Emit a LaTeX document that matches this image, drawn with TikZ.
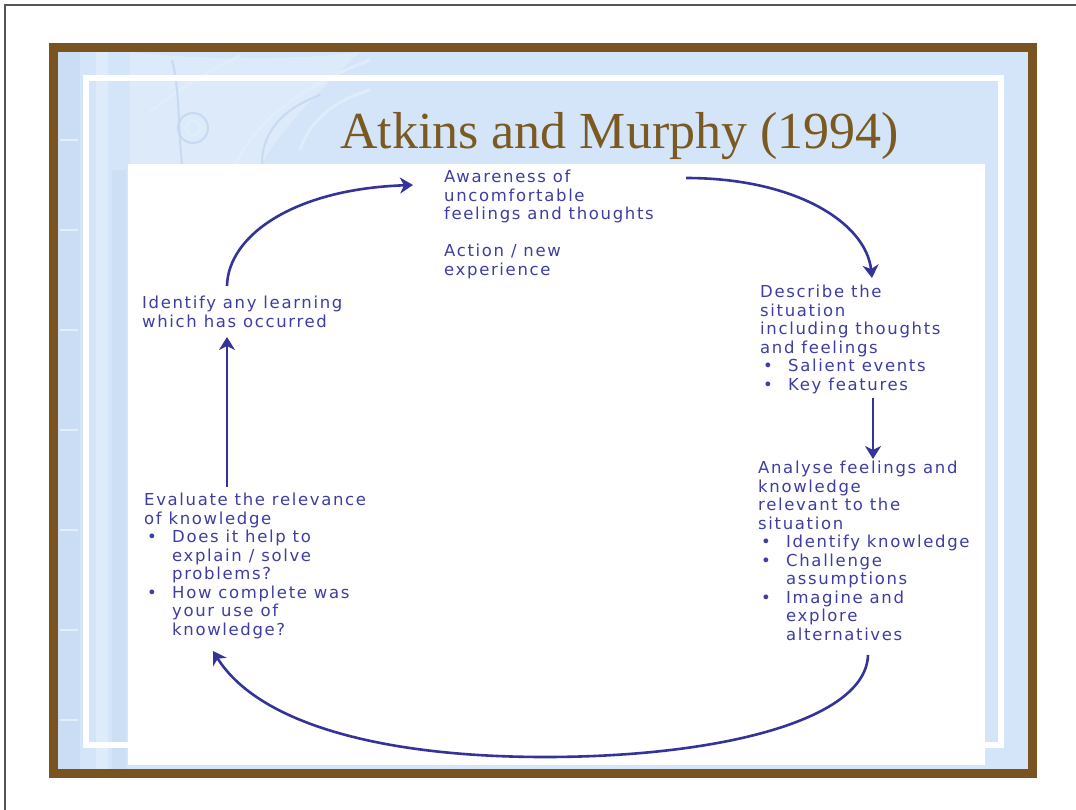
\documentclass[tikz,border=0pt]{standalone}
\usepackage{fontspec}
\usetikzlibrary{arrows.meta}
\newfontfamily\bodyfont[LetterSpace=10]{DejaVu Sans}
\newfontfamily\titlefont{Liberation Serif}
\definecolor{framebrown}{HTML}{7A5420}
\definecolor{titlebrown}{HTML}{7B5A22}
\definecolor{bgblue}{HTML}{D4E5F9}
\definecolor{bgdark}{HTML}{C2D7F0}
\definecolor{bglight}{HTML}{E2EEFB}
\definecolor{textblue}{HTML}{3E3EA2}
\definecolor{arrowblue}{HTML}{33339A}
\definecolor{pagegray}{HTML}{555555}
\newcommand\bul{\makebox[28pt][l]{\hspace{3pt}•}}
\newcommand\ind{\hspace*{28pt}}
\begin{document}
\begin{tikzpicture}[x=1pt,y=-1pt,
  txt/.style={anchor=north west, inner sep=0pt, align=left, text=textblue,
    font=\bodyfont\fontsize{16.5}{18.5}\selectfont},
  cyc/.style={draw=arrowblue, line width=2.6pt,
    -{Stealth[length=13pt,width=16pt,inset=4pt]}},
  deco/.style={draw=bglight, opacity=.8, line width=3pt},
  decod/.style={draw=bgdark, opacity=.8, line width=2pt}]
\useasboundingbox (0,0) rectangle (1076,810);
\fill[white] (0,0) rectangle (1076,810);
\draw[pagegray, line width=1.2pt] (5,810) -- (5,5) -- (1076,5);
% frame and background
\fill[framebrown] (49,43) rectangle (1037,778);
\fill[bgblue] (58,52) rectangle (1028,769);
% faint architectural background
\begin{scope}
\clip (58,52) rectangle (1028,769);
\fill[bgdark, opacity=.5] (58,52) rectangle (80,769);
\fill[bglight, opacity=.7] (96,52) rectangle (108,769);
\fill[bgdark, opacity=.4] (112,170) rectangle (126,769);
\foreach \y in {140,230,330,430,530,630,720} \draw[bglight, line width=2pt] (60,\y) -- (78,\y);
\fill[bglight, opacity=.6] (130,52) .. controls (200,60) and (300,60) .. (360,52) -- (360,52) .. controls (320,90) and (280,130) .. (262,164) -- (130,164) -- cycle;
\draw[deco] (236,164) .. controls (255,120) and (305,85) .. (370,60);
\draw[decod] (262,164) .. controls (262,130) and (285,108) .. (320,95);
\draw[deco] (150,112) .. controls (175,92) and (205,72) .. (240,56);
\draw[decod] (193,128) circle (15);
\draw[deco] (193,128) circle (7);
\draw[decod] (172,60) .. controls (180,90) and (178,130) .. (182,164);
\draw[deco] (300,150) .. controls (310,120) and (335,100) .. (370,90);
\end{scope}
\draw[white, line width=6pt] (86,78) rectangle (1001,745);
\fill[white] (128,164) rectangle (985,765);
% title
\node[anchor=base west, inner sep=0pt, text=titlebrown,
  font=\titlefont\fontsize{52}{60}\selectfont] (title) at (340,149) {Atkins and Murphy (1994)};
% text blocks
\node[txt] (aware) at (444,170) {Awareness of\\uncomfortable\\feelings and thoughts};
\node[txt] (action) at (444,244) {Action / new\\experience};
\node[txt] (describe) at (760,285) {Describe the\\situation\\including thoughts\\and feelings\\\bul Salient events\\\bul Key features};
\node[txt] (analyse) at (758,461) {Analyse feelings and\\knowledge\\relevant to the\\situation\\\bul Identify knowledge\\\bul Challenge\\\ind assumptions\\\bul Imagine and\\\ind explore\\\ind alternatives};
\node[txt] (learn) at (142,296) {Identify any learning\\which has occurred};
\node[txt] (eval) at (144,493) {Evaluate the relevance\\of knowledge\\\bul Does it help to\\\ind explain / solve\\\ind problems?\\\bul How complete was\\\ind your use of\\\ind knowledge?};
% connector end points
\coordinate (a1s) at ([shift={(85,-10)}]learn.north west);
\coordinate (a1e) at ([shift={(-31,15)}]aware.north west);
\coordinate (a2s) at ([shift={(242,8)}]aware.north west);
\coordinate (a2e) at ([shift={(112,-7)}]describe.north west);
\coordinate (a3s) at ([shift={(113,113)}]describe.north west);
\coordinate (a3e) at ([shift={(115,-2)}]analyse.north west);
\coordinate (a4s) at ([shift={(110,194)}]analyse.north west);
\coordinate (a4m) at (545,757);
\coordinate (a4e) at ([shift={(69,158)}]eval.north west);
\coordinate (a5s) at ([shift={(83,-6)}]eval.north west);
\coordinate (a5e) at ([shift={(85,41)}]learn.north west);
% connectors
\draw[cyc] (a1s) .. controls +(1,-50) and +(-120,4) .. (a1e);
\draw[cyc] (a2s) .. controls +(110,0) and +(-6,-55) .. (a2e);
\draw[cyc] (a3s) -- (a3e);
\draw[cyc] (a4s) .. controls +(-2,65) and +(175,0) .. (a4m)
  .. controls +(-165,0) and +(45,72) .. (a4e);
\draw[cyc] (a5s) -- (a5e);
\end{tikzpicture}
\end{document}
